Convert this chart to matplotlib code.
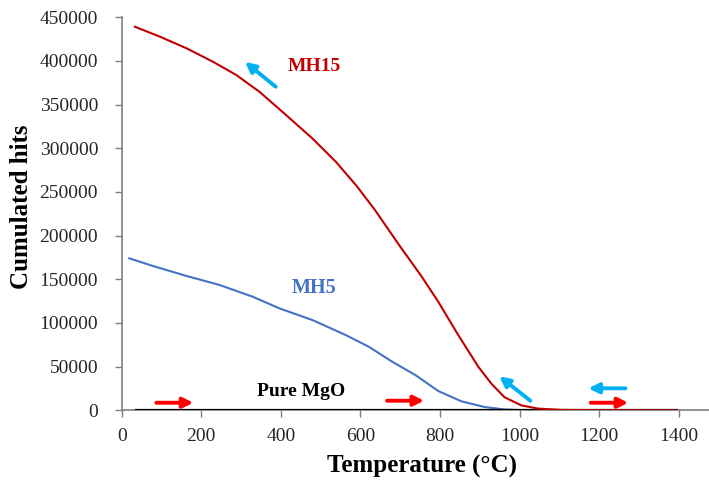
import numpy as np
import matplotlib.pyplot as plt

# ==========================================
# Dados
# ==========================================
temp_mh15 = [33, 96, 163, 229, 288, 346, 413, 479, 538, 592, 637, 696, 754,
             796, 821, 846, 871, 896, 929, 962, 1004, 1046, 1104, 1200, 1300, 1395]
hits_mh15 = [439200, 427800, 414500, 399200, 383900, 364800, 338100, 311400,
             284700, 256000, 229000, 190000, 153000, 124000, 105000, 86000,
             68000, 50000, 30500, 15000, 5700, 2000, 500, 150, 50, 0]

temp_mh5 = [19, 79, 163, 246, 329, 396, 479, 563, 621, 680, 738, 796, 854,
            912, 962, 1000, 1100, 1200, 1395]
hits_mh5 = [174000, 165200, 153800, 143500, 130100, 116800, 103400, 86200,
            72800, 55600, 40400, 22000, 10300, 3800, 1000, 300, 0, 0, 0]

temp_mgo = [35, 400, 800, 1200, 1395]
hits_mgo = [0, 0, 0, 0, 0]

x_ticks = [0, 200, 400, 600, 800, 1000, 1200, 1400]
y_ticks = [0, 50000, 100000, 150000, 200000, 250000, 300000, 350000, 400000, 450000]

# ==========================================
# Figura
# ==========================================
plt.rcParams['font.family'] = ['Liberation Serif', 'DejaVu Serif']

fig = plt.figure(figsize=(7.09, 4.82), dpi=100)
ax = fig.add_axes([0.1717, 0.1487, 0.8283, 0.8154])

ax.plot(temp_mh5, hits_mh5, color='#4472C4', lw=1.5, zorder=3)
ax.plot(temp_mgo, hits_mgo, color='black', lw=1.6, zorder=4)
ax.plot(temp_mh15, hits_mh15, color='#C00000', lw=1.5, zorder=5)

ax.set_xlim(0, 1476)
ax.set_ylim(0, 450000)
ax.set_xticks(x_ticks)
ax.set_yticks(y_ticks)
ax.tick_params(axis='both', labelsize=14, colors='#7f7f7f', labelcolor='#262626',
               length=5, width=1, direction='out')
ax.tick_params(axis='y', pad=12)
ax.tick_params(axis='x', pad=8)

for s in ['top', 'right']:
    ax.spines[s].set_visible(False)
for s in ['left', 'bottom']:
    ax.spines[s].set_color('#7f7f7f')
    ax.spines[s].set_linewidth(1.2)

# títulos dos eixos
fig.text(422 / 709, 1 - 466 / 482, 'Temperature (°C)', fontsize=18,
         fontweight='bold', ha='center', va='center')
fig.text(21.7 / 709, 1 - 207 / 482, 'Cumulated hits', fontsize=18,
         fontweight='bold', ha='center', va='center', rotation=90)

# rótulos das curvas
ax.text(484, 393500, 'MH15', color='#C00000', fontsize=14, fontweight='bold',
        ha='center', va='center')
ax.text(484, 140400, 'MH5', color='#4472C4', fontsize=14.5, fontweight='bold',
        ha='center', va='center')
ax.text(452, 21300, 'Pure MgO', color='black', fontsize=14, fontweight='bold',
        ha='center', va='center')

# setas (aquecimento em vermelho, resfriamento em azul)
def seta(x0, y0, x1, y1, cor):
    ax.annotate('', xy=(x1, y1), xytext=(x0, y0),
                arrowprops=dict(arrowstyle='-|>,head_length=0.6,head_width=0.3',
                                color=cor, lw=2.8, shrinkA=0, shrinkB=0),
                zorder=6)

seta(87, 8700, 180, 8700, '#FF0000')
seta(667, 11000, 760, 11000, '#FF0000')
seta(1179, 8700, 1273, 8700, '#FF0000')
seta(1027, 11000, 949, 39000, '#00B0F0')
seta(1266, 25200, 1173, 25200, '#00B0F0')
seta(387, 370500, 310, 399000, '#00B0F0')

fig.savefig('out.png', dpi=100)
